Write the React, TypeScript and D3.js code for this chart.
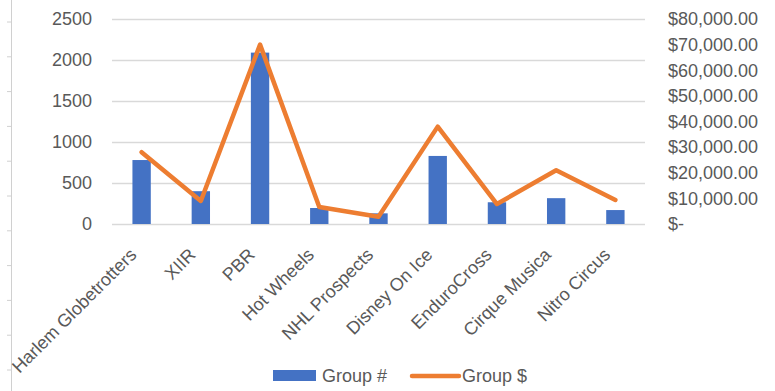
import React, { useEffect, useRef } from "react";
import * as d3 from "d3";

const categories = [
  "Harlem Globetrotters",
  "XIIR",
  "PBR",
  "Hot Wheels",
  "NHL Prospects",
  "Disney On Ice",
  "EnduroCross",
  "Cirque Musica",
  "Nitro Circus",
];
const groupCount = [780, 400, 2090, 195, 130, 830, 265, 315, 170];
const groupDollars = [28000, 9000, 70000, 6600, 2800, 38000, 7800, 21000, 9400];
const leftTicks = [0, 500, 1000, 1500, 2000, 2500];
const rightTicks = [0, 10000, 20000, 30000, 40000, 50000, 60000, 70000, 80000];
const legendLabels = ["Group #", "Group $"];

const BLUE = "#4472C4";
const ORANGE = "#ED7D31";
const GRID = "#d9d9d9";
const TEXT = "#595959";
const FONT = "'Liberation Sans', Arial, sans-serif";

export default function App() {
  const ref = useRef<SVGSVGElement>(null);

  useEffect(() => {
    const svg = d3.select(ref.current);
    svg.selectAll("*").remove();

    const plot = { left: 112, right: 645, top: 19, bottom: 224 };

    const x = d3
      .scaleBand()
      .domain(categories)
      .range([plot.left, plot.right])
      .padding(0);
    const yLeft = d3.scaleLinear().domain([0, 2500]).range([plot.bottom, plot.top]);
    const yRight = d3.scaleLinear().domain([0, 80000]).range([plot.bottom, plot.top]);

    const barW = x.bandwidth() * 0.31;
    const cx = (c: string) => (x(c) as number) + x.bandwidth() / 2;

    // page edge line with little ticks on the far left
    const edge = svg.append("g");
    edge
      .append("line")
      .attr("x1", 11.5)
      .attr("x2", 11.5)
      .attr("y1", 0)
      .attr("y2", 391)
      .attr("stroke", "#d0d0d0");
    edge
      .selectAll(".edge-tick")
      .data(d3.range(0, 11))
      .join("line")
      .attr("class", "edge-tick")
      .attr("x1", 7)
      .attr("x2", 11.5)
      .attr("y1", (i) => 22 + i * 34.8)
      .attr("y2", (i) => 22 + i * 34.8)
      .attr("stroke", "#d0d0d0");

    // gridlines
    svg
      .append("g")
      .selectAll("line")
      .data(leftTicks)
      .join("line")
      .attr("x1", plot.left)
      .attr("x2", plot.right)
      .attr("y1", (d) => Math.round(yLeft(d)) + 0.5)
      .attr("y2", (d) => Math.round(yLeft(d)) + 0.5)
      .attr("stroke", GRID)
      .attr("stroke-width", 1.3);

    // left axis labels
    const leftAxis = svg
      .append("g")
      .attr("transform", `translate(92,0)`)
      .call(
        d3
          .axisLeft(yLeft)
          .tickValues(leftTicks)
          .tickSize(0)
          .tickPadding(0)
          .tickFormat(d3.format("d"))
      );
    leftAxis.select(".domain").remove();
    leftAxis
      .selectAll("text")
      .attr("fill", TEXT)
      .style("font-family", FONT)
      .style("font-size", "18px");

    // right axis labels
    const dollar = d3.format(",.2f");
    const rightAxis = svg
      .append("g")
      .attr("transform", `translate(668,0)`)
      .call(
        d3
          .axisRight(yRight)
          .tickValues(rightTicks)
          .tickSize(0)
          .tickPadding(0)
          .tickFormat((d) => (+d === 0 ? "$-" : "$" + dollar(+d)))
      );
    rightAxis.select(".domain").remove();
    rightAxis
      .selectAll("text")
      .attr("fill", TEXT)
      .style("font-family", FONT)
      .style("font-size", "18px");

    // bars
    svg
      .append("g")
      .selectAll("rect")
      .data(categories)
      .join("rect")
      .attr("x", (c) => cx(c) - barW / 2)
      .attr("y", (c, i) => yLeft(groupCount[i]))
      .attr("width", barW)
      .attr("height", (c, i) => plot.bottom - yLeft(groupCount[i]))
      .attr("fill", BLUE);

    // line
    const line = d3
      .line<number>()
      .x((d, i) => cx(categories[i]))
      .y((d) => yRight(d));
    svg
      .append("path")
      .datum(groupDollars)
      .attr("d", line)
      .attr("fill", "none")
      .attr("stroke", ORANGE)
      .attr("stroke-width", 4.5)
      .attr("stroke-linejoin", "round")
      .attr("stroke-linecap", "round");

    // category labels, rotated
    svg
      .append("g")
      .selectAll("text")
      .data(categories)
      .join("text")
      .attr("transform", (c) => `translate(${cx(c) - 13},${247}) rotate(-45)`)
      .attr("text-anchor", "end")
      .attr("dy", "0.7em")
      .attr("fill", TEXT)
      .style("font-family", FONT)
      .style("font-size", "18px")
      .text((c) => c);

    // legend
    const legend = svg.append("g").style("font-family", FONT).style("font-size", "18px");
    legend
      .append("rect")
      .attr("x", 273)
      .attr("y", 370)
      .attr("width", 43)
      .attr("height", 11)
      .attr("fill", BLUE);
    legend
      .append("text")
      .attr("x", 322)
      .attr("y", 382)
      .attr("fill", TEXT)
      .text(legendLabels[0]);
    legend
      .append("line")
      .attr("x1", 412)
      .attr("x2", 459)
      .attr("y1", 376)
      .attr("y2", 376)
      .attr("stroke", ORANGE)
      .attr("stroke-width", 4.5)
      .attr("stroke-linecap", "round");
    legend
      .append("text")
      .attr("x", 462)
      .attr("y", 382)
      .attr("fill", TEXT)
      .text(legendLabels[1]);
  }, []);

  return (
    <svg
      ref={ref}
      width={775}
      height={391}
      style={{ position: "absolute", left: 0, top: 0, background: "#fff" }}
    />
  );
}
